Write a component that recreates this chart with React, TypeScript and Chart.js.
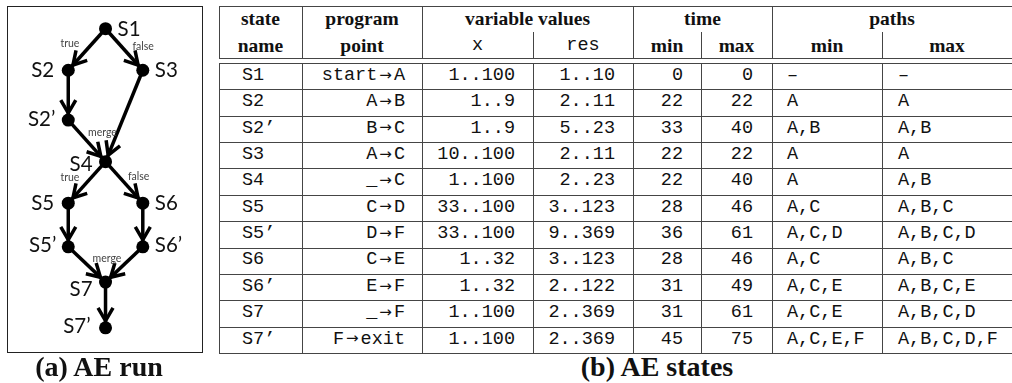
import React, { useEffect, useRef } from "react";
import { Chart, registerables } from "chart.js";

Chart.register(...registerables);

// ---------- graph data (panel a) ----------
const nodeNames = ["S1", "S2", "S3", "S2’", "S4", "S5", "S6", "S5’", "S6’", "S7", "S7’"];
const nodeColumn = [0, -1, 1, -1, 0, -1, 1, -1, 1, 0, 0];
const nodeDepth = [0, 1, 1, 2.2, 3.2, 4.2, 4.2, 5.25, 5.25, 6.1, 7.2];

const edgeFrom = ["S1", "S1", "S2", "S2’", "S3", "S4", "S4", "S5", "S6", "S5’", "S6’", "S7"];
const edgeTo = ["S2", "S3", "S2’", "S4", "S4", "S5", "S6", "S5’", "S6’", "S7", "S7", "S7’"];
const edgeLabels = ["true", "false", "", "merge", "", "true", "false", "", "", "merge", "", ""];

// ---------- table data (panel b) ----------
const stateNames = ["S1", "S2", "S2’", "S3", "S4", "S5", "S5’", "S6", "S6’", "S7", "S7’"];
const pointFrom = ["start", "A", "B", "A", "_", "C", "D", "C", "E", "_", "F"];
const pointTo = ["A", "B", "C", "C", "C", "D", "F", "E", "F", "F", "exit"];
const xValues = ["1..100", "1..9", "1..9", "10..100", "1..100", "33..100", "33..100", "1..32", "1..32", "1..100", "1..100"];
const resValues = ["1..10", "2..11", "5..23", "2..11", "2..23", "3..123", "9..369", "3..123", "2..122", "2..369", "2..369"];
const timeMin = [0, 22, 33, 22, 22, 28, 36, 28, 31, 31, 45];
const timeMax = [0, 22, 40, 22, 40, 46, 61, 46, 49, 61, 75];
const pathsMin = ["–", "A", "A,B", "A", "A", "A,C", "A,C,D", "A,C", "A,C,E", "A,C,E", "A,C,E,F"];
const pathsMax = ["–", "A", "A,B", "A", "A,B", "A,B,C", "A,B,C,D", "A,B,C", "A,B,C,E", "A,B,C,D", "A,B,C,D,F"];

// ---------- layout (not data) ----------
const CANVAS_W = 212;
const CANVAS_H = 383;
const COL_PX = 39.7;
const CENTER_X = 105.5;
const DEPTH_PX = 43;
const TOP_Y = 23;
const NODE_R = 6.5;

const labelDx = [12, -14, 12, -13, -13, -14, 12, -12, 12, -13, -15];
const labelDy = [1, 0, 0, -1, 3, 0, 0, -1, -1, 7, -1];
const edgeLabelDx = [-17, 19, 0, 15.5, 0, -17, 14.5, 0, 0, 20, 0, 0];
const edgeLabelDy = [-6, -3, 0, -8.5, 0, -4.5, -5.5, 0, 0, -6, 0, 0];

const GraphChart: React.FC = () => {
  const ref = useRef<HTMLCanvasElement | null>(null);
  useEffect(() => {
    if (!ref.current) return;
    const idx = (n: string) => nodeNames.indexOf(n);
    const pt = (n: string) => ({ x: nodeColumn[idx(n)], y: nodeDepth[idx(n)] });

    const edgeDatasets = edgeFrom.map((f, i) => ({
      type: "scatter" as const,
      label: `${f}-${edgeTo[i]}`,
      data: [pt(f), pt(edgeTo[i])],
      showLine: true,
      borderColor: "#000",
      borderWidth: 3.5,
      pointRadius: 0,
      pointHoverRadius: 0,
      order: 1,
    }));

    const overlay = {
      id: "graphOverlay",
      afterDatasetsDraw(chart: any) {
        const ctx: CanvasRenderingContext2D = chart.ctx;
        const xs = chart.scales.x;
        const ys = chart.scales.y;
        const px = (n: string) => ({
          x: xs.getPixelForValue(nodeColumn[idx(n)]),
          y: ys.getPixelForValue(nodeDepth[idx(n)]),
        });
        ctx.save();
        ctx.strokeStyle = "#000";
        ctx.lineWidth = 3.5;
        ctx.lineJoin = "miter";
        ctx.lineCap = "butt";
        edgeFrom.forEach((f, i) => {
          const a = px(f);
          const b = px(edgeTo[i]);
          const dx = b.x - a.x;
          const dy = b.y - a.y;
          const len = Math.hypot(dx, dy);
          const ux = dx / len;
          const uy = dy / len;
          const tipX = b.x - ux * (NODE_R + 0.5);
          const tipY = b.y - uy * (NODE_R + 0.5);
          const arm = 15;
          const ang = (30 * Math.PI) / 180;
          const rot = (s: number) => ({
            x: -(ux * Math.cos(s * ang) - uy * Math.sin(s * ang)),
            y: -(ux * Math.sin(s * ang) + uy * Math.cos(s * ang)),
          });
          const r1 = rot(1);
          const r2 = rot(-1);
          ctx.beginPath();
          ctx.moveTo(tipX + r1.x * arm, tipY + r1.y * arm);
          ctx.lineTo(tipX, tipY);
          ctx.lineTo(tipX + r2.x * arm, tipY + r2.y * arm);
          ctx.stroke();
        });
        ctx.fillStyle = "#111";
        ctx.font = "20.5px Lato, 'Noto Sans', sans-serif";
        ctx.textBaseline = "middle";
        nodeNames.forEach((n, i) => {
          const p = px(n);
          ctx.textAlign = labelDx[i] > 0 ? "left" : "right";
          ctx.fillText(n, p.x + labelDx[i], p.y + labelDy[i]);
        });
        ctx.fillStyle = "#444";
        ctx.font = "10.5px Lato, 'Noto Sans', sans-serif";
        ctx.textAlign = "center";
        edgeFrom.forEach((f, i) => {
          if (!edgeLabels[i]) return;
          const a = px(f);
          const b = px(edgeTo[i]);
          ctx.fillText(edgeLabels[i], (a.x + b.x) / 2 + edgeLabelDx[i], (a.y + b.y) / 2 + edgeLabelDy[i]);
        });
        ctx.restore();
      },
    };

    const chart = new Chart(ref.current, {
      type: "scatter",
      data: {
        datasets: [
          {
            label: "states",
            data: nodeNames.map((n) => pt(n)),
            backgroundColor: "#000",
            borderColor: "#000",
            borderWidth: 0,
            pointRadius: NODE_R,
            pointHoverRadius: NODE_R,
            order: 0,
          },
          ...edgeDatasets,
        ] as any,
      },
      options: {
        animation: false,
        responsive: false,
        maintainAspectRatio: false,
        events: [],
        layout: { padding: 0 },
        plugins: { legend: { display: false }, tooltip: { enabled: false } },
        scales: {
          x: { type: "linear", display: false, min: -CENTER_X / COL_PX, max: (CANVAS_W - CENTER_X) / COL_PX },
          y: { type: "linear", display: false, reverse: true, min: -TOP_Y / DEPTH_PX, max: (CANVAS_H - TOP_Y) / DEPTH_PX },
        },
      },
      plugins: [overlay],
    });
    return () => chart.destroy();
  }, []);
  return (
    <canvas
      ref={ref}
      width={CANVAS_W}
      height={CANVAS_H}
      style={{ position: "absolute", left: 0, top: 0, width: CANVAS_W, height: CANVAS_H }}
    />
  );
};

// ---------- table layout ----------
const T_LEFT = 219;
const T_TOP = 6;
const H_MID = 32;
const H_BOT = 58;
const B_TOP = 63;
const B_BOT = 353;
const colEdges = [219, 302, 422, 533, 633, 701, 772, 882, 1012];
const LINE_COLOR = "#454545";

const serifBold: React.CSSProperties = {
  fontFamily: "'Liberation Serif', 'Times New Roman', serif",
  fontWeight: "bold",
  fontSize: 19.5,
  color: "#111",
};
const mono: React.CSSProperties = {
  fontFamily: "'Liberation Mono', 'DejaVu Sans Mono', monospace",
  fontSize: 18.5,
  color: "#111",
  whiteSpace: "nowrap",
};

type Align = "left" | "right" | "center";

const Cell: React.FC<{
  x0: number;
  x1: number;
  y0: number;
  y1: number;
  align: Align;
  pad?: number;
  style: React.CSSProperties;
  children: React.ReactNode;
}> = ({ x0, x1, y0, y1, align, pad = 0, style, children }) => (
  <div
    style={{
      position: "absolute",
      left: x0,
      top: y0,
      width: x1 - x0,
      height: y1 - y0,
      display: "flex",
      alignItems: "center",
      justifyContent: align === "left" ? "flex-start" : align === "right" ? "flex-end" : "center",
      paddingLeft: align === "left" ? pad : 0,
      paddingRight: align === "right" ? pad : 0,
      boxSizing: "border-box",
      lineHeight: 1,
      ...style,
    }}
  >
    {children}
  </div>
);

const HLine: React.FC<{ y: number }> = ({ y }) => (
  <div style={{ position: "absolute", left: T_LEFT, top: y, width: 1012 - T_LEFT, height: 1, background: LINE_COLOR }} />
);
const VLine: React.FC<{ x: number; y0: number; y1: number }> = ({ x, y0, y1 }) => (
  <div style={{ position: "absolute", left: x, top: y0, width: 1, height: y1 - y0, background: LINE_COLOR }} />
);

const Arrow: React.FC = () => (
  <span style={{ fontFamily: "'DejaVu Sans', sans-serif", fontSize: 15, margin: "0 2px", position: "relative", top: -1 }}>→</span>
);

const StateTable: React.FC = () => {
  const rowH = (B_BOT - B_TOP) / stateNames.length;
  const fullCols = [0, 1, 2, 4, 6];
  const subCols = [3, 5, 7];
  const headerTop: [string, number, number][] = [
    ["state", 0, 1],
    ["program", 1, 2],
    ["variable values", 2, 4],
    ["time", 4, 6],
    ["paths", 6, 8],
  ];
  const headerBottom: [string, boolean][] = [
    ["name", false],
    ["point", false],
    ["x", true],
    ["res", true],
    ["min", false],
    ["max", false],
    ["min", false],
    ["max", false],
  ];
  return (
    <>
      {headerTop.map(([t, a, b]) => (
        <Cell key={t} x0={colEdges[a]} x1={colEdges[b]} y0={T_TOP} y1={H_MID} align="center" style={serifBold}>
          {t}
        </Cell>
      ))}
      {headerBottom.map(([t, isMono], j) => (
        <Cell
          key={`hb${j}`}
          x0={colEdges[j]}
          x1={colEdges[j + 1]}
          y0={H_MID}
          y1={H_BOT}
          align="center"
          style={isMono ? { ...mono, paddingTop: 2 } : { ...serifBold, paddingTop: 1 }}
        >
          {t}
        </Cell>
      ))}
      {stateNames.map((s, i) => {
        const y0 = B_TOP + i * rowH;
        const y1 = y0 + rowH;
        const c = (j: number) => ({ x0: colEdges[j], x1: colEdges[j + 1], y0, y1 });
        return (
          <React.Fragment key={s}>
            <Cell {...c(0)} align="left" pad={23} style={mono}>{s}</Cell>
            <Cell {...c(1)} align="right" pad={17} style={mono}>
              {pointFrom[i]}
              <Arrow />
              {pointTo[i]}
            </Cell>
            <Cell {...c(2)} align="right" pad={18} style={mono}>{xValues[i]}</Cell>
            <Cell {...c(3)} align="right" pad={18} style={mono}>{resValues[i]}</Cell>
            <Cell {...c(4)} align="right" pad={18} style={mono}>{timeMin[i]}</Cell>
            <Cell {...c(5)} align="right" pad={19} style={mono}>{timeMax[i]}</Cell>
            <Cell {...c(6)} align="left" pad={15} style={mono}>{pathsMin[i]}</Cell>
            <Cell {...c(7)} align="left" pad={16} style={mono}>{pathsMax[i]}</Cell>
          </React.Fragment>
        );
      })}
      <HLine y={T_TOP} />
      <HLine y={H_BOT} />
      <HLine y={B_TOP} />
      {stateNames.map((s, i) => (
        <HLine key={`hl${s}`} y={Math.round(B_TOP + (i + 1) * rowH)} />
      ))}
      {fullCols.map((j) => (
        <React.Fragment key={`vf${j}`}>
          <VLine x={colEdges[j]} y0={T_TOP} y1={H_BOT} />
          <VLine x={colEdges[j]} y0={B_TOP} y1={B_BOT + 1} />
        </React.Fragment>
      ))}
      {subCols.map((j) => (
        <React.Fragment key={`vs${j}`}>
          <VLine x={colEdges[j]} y0={H_MID} y1={H_BOT} />
          <VLine x={colEdges[j]} y0={B_TOP} y1={B_BOT + 1} />
        </React.Fragment>
      ))}
    </>
  );
};

const captionStyle: React.CSSProperties = {
  position: "absolute",
  fontFamily: "'Liberation Serif', 'Times New Roman', serif",
  fontWeight: "bold",
  fontSize: 28,
  lineHeight: "28px",
  whiteSpace: "nowrap",
  transform: "translateX(-50%)",
  color: "#111",
};

const App: React.FC = () => {
  return (
    <div
      style={{
        position: "absolute",
        left: 0,
        top: 0,
        width: 1012,
        height: 383,
        background: "#fff",
        overflow: "hidden",
      }}
    >
      <div
        style={{
          position: "absolute",
          left: 7,
          top: 6,
          width: 196,
          height: 347,
          border: "1px solid #222",
          boxSizing: "border-box",
        }}
      />
      <GraphChart />
      <StateTable />
      <div style={{ ...captionStyle, left: 99, top: 353 }}>(a) AE run</div>
      <div style={{ ...captionStyle, left: 657, top: 353 }}>(b) AE states</div>
    </div>
  );
};

export default App;
